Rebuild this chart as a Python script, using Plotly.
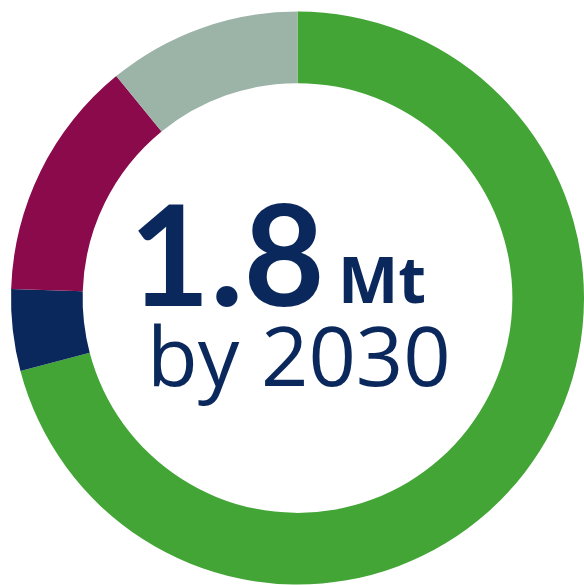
import plotly.graph_objects as go

labels = ["Green segment", "Navy segment", "Maroon segment", "Grey segment"]
values = [70.9, 4.6, 13.6, 10.9]
colors = ["#43A536", "#0B285C", "#8A0A4C", "#9BB4A7"]

W, H = 584, 585

fig = go.Figure(go.Pie(
    labels=labels, values=values, sort=False, direction="clockwise", rotation=0,
    hole=0.75, textinfo="none", hoverinfo="label+percent",
    marker=dict(colors=colors, line=dict(width=0)),
    domain=dict(x=[11 / W, 1.0], y=[0.0, 574 / H]),
    showlegend=False,
))

def px(x):
    return x / W

def py(y):
    return 1 - y / H

fig.add_annotation(text="<b>1.8</b>", x=px(327), y=py(305), xref="paper", yref="paper",
                   xanchor="right", yanchor="bottom", showarrow=False,
                   font=dict(family="Lato", size=140, color="#0B285C", weight=900), yshift=-33)
fig.add_annotation(text="<b>Mt</b>", x=px(336), y=py(305), xref="paper", yref="paper",
                   xanchor="left", yanchor="bottom", showarrow=False,
                   font=dict(family="Open Sans", size=64, color="#0B285C", weight=800), yshift=-19)
fig.add_annotation(text="by 2030", x=px(299), y=py(404), xref="paper", yref="paper",
                   xanchor="center", yanchor="bottom", showarrow=False,
                   font=dict(family="Open Sans", size=83, color="#0B285C"), yshift=-8)

fig.update_layout(width=W, height=H, margin=dict(l=0, r=0, t=0, b=0),
                  paper_bgcolor="white", plot_bgcolor="white")
fig.write_html("out.html")
